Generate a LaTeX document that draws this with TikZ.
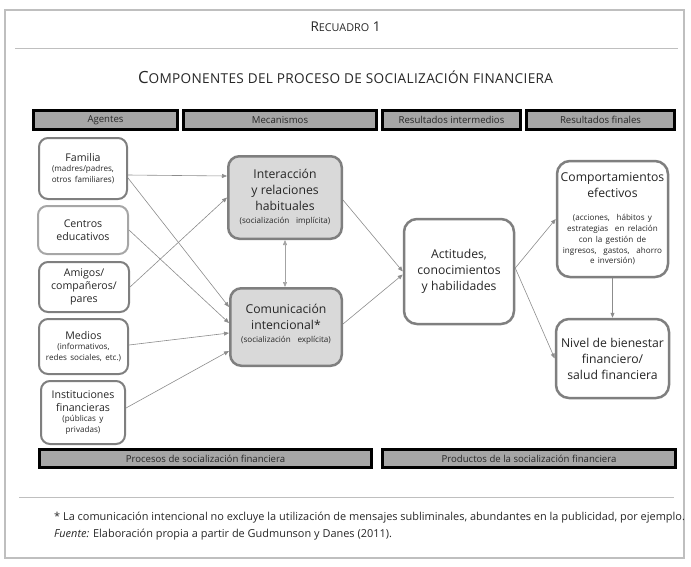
\documentclass[tikz,border=0pt]{standalone}
\usepackage{fontspec}
\setmainfont{Open Sans}
\usetikzlibrary{arrows.meta}
\definecolor{barfill}{HTML}{A6A6A6}
\definecolor{boxgray}{HTML}{D9D9D9}
\definecolor{edgec}{HTML}{7F7F7F}
\definecolor{lightedge}{HTML}{A6A6A6}
\definecolor{framec}{HTML}{BFBFBF}
\definecolor{txt}{HTML}{262626}
\definecolor{arrowc}{HTML}{8C8C8C}
\newcommand\bigtxt{\fontsize{12.2}{16}\selectfont}
\newcommand\midtxt{\fontsize{10.6}{13}\selectfont}
\newcommand\smalltxt{\fontsize{8.1}{10.8}\selectfont}
\begin{document}
\begin{tikzpicture}[x=1pt,y=-1pt,
  bar/.style={draw=black, line width=3pt, fill=barfill, inner sep=0pt, text=txt,
    font=\fontsize{9.6}{11}\selectfont},
  agent/.style={draw=edgec, line width=2pt, rounded corners=9pt, fill=white,
    align=center, inner sep=0pt, text=txt},
  mech/.style={draw=edgec, line width=2.5pt, rounded corners=11pt, fill=boxgray,
    align=center, inner sep=0pt, text=txt},
  result/.style={draw=edgec, line width=2.5pt, rounded corners=13pt, fill=white,
    align=center, inner sep=0pt, text=txt},
  conn/.style={draw=arrowc, line width=0.6pt, -{Triangle[length=5pt,width=4pt]}},
  dconn/.style={draw=arrowc!80, line width=0.6pt, {Triangle[length=5pt,width=4pt]}-{Triangle[length=5pt,width=4pt]}},
  plain/.style={inner sep=0pt, text=txt}
]
\useasboundingbox (0,0) rectangle (691,566);
% frame and rules
\draw[framec, line width=1.2pt] (5,10) rectangle (684,558);
\draw[framec, line width=1pt] (15,48.5) -- (678,48.5);
\draw[framec, line width=1pt] (19,497) -- (674,497);

% headings
\node[plain] (rec) at (345.5,27) {{\fontsize{13.5}{14}\selectfont R}{\fontsize{10.8}{12}\selectfont ECUADRO}{\fontsize{13.5}{14}\selectfont\ 1}};
\node[plain] (tit) at (345.5,77) {{\fontsize{16.8}{18}\selectfont C}{\fontsize{13.6}{16}\selectfont\addfontfeature{LetterSpace=2.5}OMPONENTES DEL PROCESO DE SOCIALIZACIÓN FINANCIERA}};

% header bars
\node[bar, minimum width=144pt, minimum height=19pt] (h1) at (105.5,120) {Agentes};
\node[bar, minimum width=193pt, minimum height=19pt] (h2) at (280,120) {Mecanismos};
\node[bar, minimum width=138pt, minimum height=19pt] (h3) at (451.5,120) {Resultados intermedios};
\node[bar, minimum width=148pt, minimum height=19pt] (h4) at (600.5,120) {Resultados finales};

% bottom bars
\node[bar, minimum width=332pt, minimum height=18pt] (b1) at (205.5,458.5) {Procesos de socialización financiera};
\node[bar, minimum width=293pt, minimum height=18pt] (b2) at (529,458.5) {Productos de la socialización financiera};

% agents
\node[agent, minimum width=88pt, minimum height=61pt, text width=86pt] (fam) at (83,168.5)
  {{\midtxt Familia\par}{\smalltxt (madres/padres,\\ otros familiares)\par}};
\node[agent, draw=lightedge, minimum width=90pt, minimum height=48pt, text width=86pt] (cen) at (83,230)
  {{\midtxt Centros\\ educativos\par}};
\node[agent, minimum width=90pt, minimum height=50pt, text width=86pt] (ami) at (84,287)
  {{\midtxt Amigos/\\ compañeros/\\ pares\par}};
\node[agent, minimum width=89pt, minimum height=55pt, text width=86pt] (med) at (83.5,346.5)
  {{\midtxt Medios\par}{\smalltxt (informativos,\\ redes sociales, etc.)\par}};
\node[agent, minimum width=84pt, minimum height=63pt, text width=82pt] (ins) at (83,412.5)
  {{\midtxt Instituciones\\ financieras\par}{\smalltxt (públicas y\\ privadas)\par}};

% mechanisms
\node[mech, minimum width=113.5pt, minimum height=82.5pt, text width=110pt] (int) at (285,197.5)
  {{\bigtxt Interacción\\ y relaciones\\ habituales\par}{\smalltxt\vspace{2pt} (socialización \ implícita)\par}};
\node[mech, minimum width=111.5pt, minimum height=77.5pt, text width=110pt] (com) at (286,327)
  {{\bigtxt Comunicación\\ intencional*\par}{\smalltxt\vspace{2pt} (socialización \ explícita)\par}\vspace{5pt}};

% results
\node[result, minimum width=110pt, minimum height=105pt, text width=108pt] (act) at (459,271.5)
  {{\bigtxt Actitudes,\\ conocimientos\\ y habilidades\par}};
\node[result, minimum width=111pt, minimum height=116pt, text width=110pt] (cmp) at (612.5,219)
  {{\bigtxt Comportamientos\\ efectivos\par}\vspace{12pt}{\smalltxt (acciones, \ hábitos y\\ estrategias \ en relación\\ con la gestión de\\ ingresos, \ gastos, \ ahorro\\ e inversión)\par}};
\node[result, minimum width=113pt, minimum height=79pt, text width=112pt] (niv) at (612.5,358.5)
  {{\bigtxt Nivel de bienestar\\ financiero/\\ salud financiera\par}};

% connectors
\draw[conn] ([yshift=-6.5pt]fam.east) -- ([yshift=21.5pt]int.west);
\draw[conn] ([yshift=-9.5pt]fam.east) -- ([yshift=20pt]com.west);
\draw[conn] (cen.east) -- ([yshift=4pt]com.west);
\draw[conn] (ami.east) -- (int.west);
\draw[conn] ([yshift=1.5pt]med.east) -- ([yshift=-6pt]com.west);
\draw[conn] ([yshift=4.5pt]ins.east) -- ([yshift=-24pt]com.west);
\draw[dconn] (int.south) -- (int.south |- com.north);
\draw[conn] ([yshift=-2.5pt]int.east) -- (act.west);
\draw[conn] ([yshift=3pt]com.east) -- ([yshift=-3pt]act.west);
\draw[conn] ([yshift=3.5pt]act.east) -- (cmp.west);
\draw[conn] ([yshift=3.5pt]act.east) -- (niv.west);
\draw[conn] (cmp.south) -- (niv.north);

% notes
\node[plain, anchor=west] (fn) at (54,517.5) {\fontsize{10.95}{12}\selectfont * La comunicación intencional no excluye la utilización de mensajes subliminales, abundantes en la publicidad, por ejemplo.};
\node[plain, anchor=west] (src) at (54,535) {\fontsize{10.95}{12}\selectfont \textit{Fuente:} Elaboración propia a partir de Gudmunson y Danes (2011).};
\end{tikzpicture}
\end{document}
